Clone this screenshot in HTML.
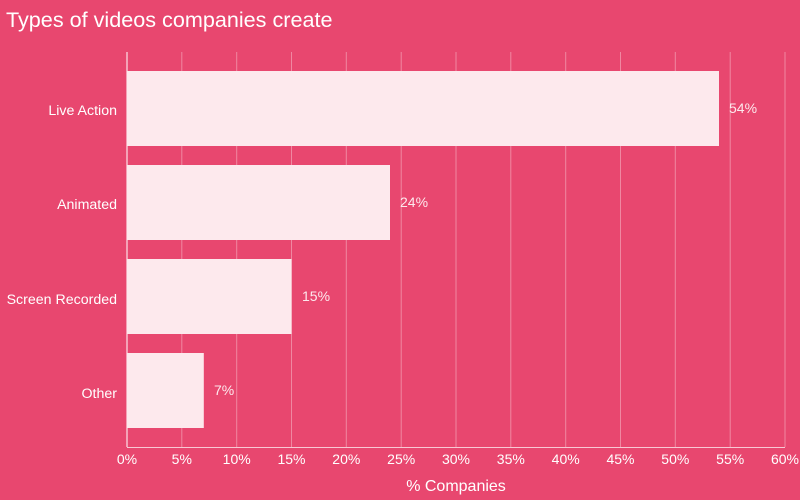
<!DOCTYPE html>
<html><head><meta charset="utf-8"><style>
html,body{margin:0;padding:0;background:#e8476f;}
svg{display:block;font-family:"Liberation Sans",sans-serif;}
</style></head><body>
<svg width="800" height="500" viewBox="0 0 800 500">
<rect width="800" height="500" fill="#e8476f"/>
<text x="6" y="27" font-size="21.6" fill="#ffffff">Types of videos companies create</text>
<g stroke="#ffffff" stroke-opacity="0.35" stroke-width="1">
<line x1="181.8" y1="52" x2="181.8" y2="447"/>
<line x1="236.7" y1="52" x2="236.7" y2="447"/>
<line x1="291.5" y1="52" x2="291.5" y2="447"/>
<line x1="346.3" y1="52" x2="346.3" y2="447"/>
<line x1="401.2" y1="52" x2="401.2" y2="447"/>
<line x1="456" y1="52" x2="456" y2="447"/>
<line x1="510.8" y1="52" x2="510.8" y2="447"/>
<line x1="565.7" y1="52" x2="565.7" y2="447"/>
<line x1="620.5" y1="52" x2="620.5" y2="447"/>
<line x1="675.3" y1="52" x2="675.3" y2="447"/>
<line x1="730.2" y1="52" x2="730.2" y2="447"/>
<line x1="785" y1="52" x2="785" y2="447"/>
</g>
<line x1="127" y1="52" x2="127" y2="447" stroke="#fff" stroke-width="1"/>
<line x1="127" y1="447.5" x2="785" y2="447.5" stroke="#fff" stroke-opacity="0.7" stroke-width="1"/>
<g fill="#fde9ed">
<rect x="127" y="71" width="592" height="75"/>
<rect x="127" y="165" width="263" height="75"/>
<rect x="127" y="259" width="164.5" height="75"/>
<rect x="127" y="353" width="76.8" height="75"/>
</g>
<g fill="#fde9ed" font-size="14">
<text x="729" y="113">54%</text>
<text x="400" y="207">24%</text>
<text x="302" y="301">15%</text>
<text x="214" y="395">7%</text>
</g>
<g fill="#fff" font-size="14.2" text-anchor="end">
<text x="117" y="115">Live Action</text>
<text x="117" y="209">Animated</text>
<text x="117" y="304">Screen Recorded</text>
<text x="117" y="398">Other</text>
</g>
<g fill="#fff" font-size="14" text-anchor="middle">
<text x="127" y="464">0%</text>
<text x="181.8" y="464">5%</text>
<text x="236.7" y="464">10%</text>
<text x="291.5" y="464">15%</text>
<text x="346.3" y="464">20%</text>
<text x="401.2" y="464">25%</text>
<text x="456" y="464">30%</text>
<text x="510.8" y="464">35%</text>
<text x="565.7" y="464">40%</text>
<text x="620.5" y="464">45%</text>
<text x="675.3" y="464">50%</text>
<text x="730.2" y="464">55%</text>
<text x="785" y="464">60%</text>
<text x="456" y="491" font-size="16">% Companies</text>
</g>
</svg>
</body></html>
